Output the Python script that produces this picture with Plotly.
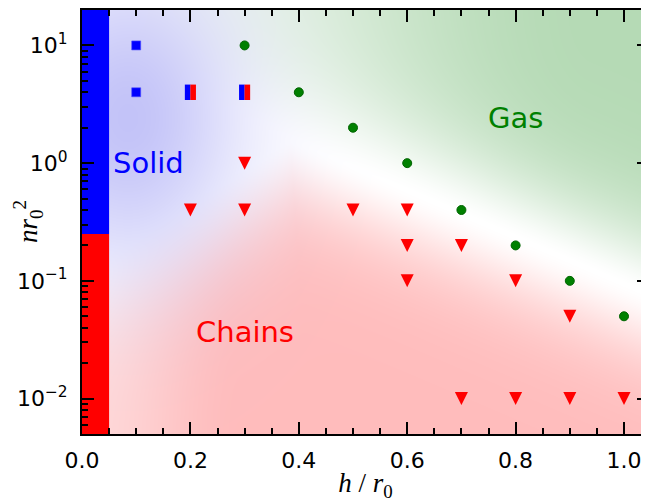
import base64
import struct
import zlib

import numpy as np
import plotly.graph_objects as go

# ---------------- data ----------------
solid_h = [0.1, 0.1]
solid_n = [10, 4]

mixed_h = [0.2, 0.3]
mixed_n = [4, 4]

gas_h = [0.3, 0.4, 0.5, 0.6, 0.7, 0.8, 0.9, 1.0]
gas_n = [10, 4, 2, 1, 0.4, 0.2, 0.1, 0.05]

chain_h = [0.3, 0.2, 0.3, 0.5, 0.6, 0.6, 0.7, 0.6, 0.8, 0.9, 0.7, 0.8, 0.9, 1.0]
chain_n = [1, 0.4, 0.4, 0.4, 0.4, 0.2, 0.2, 0.1, 0.1, 0.05, 0.01, 0.01, 0.01, 0.01]

band_h = [0.0, 0.05]          # h = 0 strip
band_split = 0.25             # solid above / chains below

x_tickvals = [0.0, 0.2, 0.4, 0.6, 0.8, 1.0]
x_ticktext = ["0.0", "0.2", "0.4", "0.6", "0.8", "1.0"]
y_tickvals = [0.01, 0.1, 1, 10]
y_ticktext = ["10<sup>\u22122</sup>", "10<sup>\u22121</sup>", "10<sup>0</sup>", "10<sup>1</sup>"]

region_names = ["Solid", "Gas", "Chains"]
region_h = [0.053, 0.80, 0.30]
region_n = [1.0, 2.4, 0.037]
region_colors = ["blue", "green", "red"]

x_range = [0.0, 1.0461]
y_min, y_max = 0.005, 20.0

# ---------------- layout geometry ----------------
# the page body adds an 8px margin, so the figure is sized to fill the rest
OFF = 8
W, H = 649 - OFF, 502 - OFF
ML, MR, MT, MB = 82 - OFF, 0, 10 - OFF, 68
PW, PH = W - ML - MR, H - MT - MB

# ---------------- soft background (phase tint) ----------------
def smoothstep(v, a, b):
    t = np.clip((v - a) / (b - a), 0, 1)
    return t * t * (3 - 2 * t)

jj, ii = np.mgrid[0:PH, 0:PW]
px = 82 + ii + 0.5          # coordinates in window pixels
py = 10 + jj + 0.5

# blue blob (solid)
a_b = np.exp(-(((px - 128) / 80.0) ** 2 + ((py - 118) / 108.0) ** 2) / 2)
# green (gas) above diagonal
line_g = 140 + 0.43 * (px - 290)
d_g = (line_g - py) / 1.089
a_g = (1 - np.exp(-(np.clip(d_g, 0, None) / 65.0) ** 1.5)) * smoothstep(px, 60, 590)
# red (chains) below
d1 = (py - line_g) / 1.089
line_r2 = 250 - 0.61 * (px - 110)
d2 = (py - line_r2) / 1.172
d_r = np.minimum(d1, d2)
a_r = (1 - np.exp(-(np.clip(d_r, 0, None) / 62.0) ** 1.6)) * (0.6 + 0.4 * smoothstep(px, 90, 240))

a_g = a_g * (1 - a_b)
a_r = a_r * (1 - a_b)

t_b = np.array([60, 60, 7])
t_g = np.array([74, 37, 74])
t_r = np.array([0, 67, 67])
img = 255 - a_b[..., None] * t_b - a_g[..., None] * t_g - a_r[..., None] * t_r
img = np.clip(np.round(img), 0, 255).astype(np.uint8)


def to_png(arr):
    h, w, _ = arr.shape
    raw = b"".join(b"\x00" + arr[r].tobytes() for r in range(h))

    def chunk(tag, data):
        c = struct.pack(">I", len(data)) + tag + data
        return c + struct.pack(">I", zlib.crc32(tag + data) & 0xFFFFFFFF)

    return (b"\x89PNG\r\n\x1a\n"
            + chunk(b"IHDR", struct.pack(">IIBBBBB", w, h, 8, 2, 0, 0, 0))
            + chunk(b"IDAT", zlib.compress(raw, 9))
            + chunk(b"IEND", b""))


bg_src = "data:image/png;base64," + base64.b64encode(to_png(img)).decode()

# ---------------- figure ----------------
fig = go.Figure()

# h = 0 strip
fig.add_trace(go.Scatter(
    x=[band_h[0], band_h[1], band_h[1], band_h[0], band_h[0]],
    y=[band_split, band_split, y_max, y_max, band_split],
    fill="toself", fillcolor="rgb(0,0,255)", mode="lines",
    line=dict(width=0, color="rgb(0,0,255)"), hoverinfo="skip"))
fig.add_trace(go.Scatter(
    x=[band_h[0], band_h[1], band_h[1], band_h[0], band_h[0]],
    y=[y_min, y_min, band_split, band_split, y_min],
    fill="toself", fillcolor="rgb(255,0,0)", mode="lines",
    line=dict(width=0, color="rgb(255,0,0)"), hoverinfo="skip"))

# gas
fig.add_trace(go.Scatter(
    x=gas_h, y=gas_n, mode="markers",
    marker=dict(symbol="circle", size=9, color="rgb(0,128,0)",
                line=dict(width=1, color="rgb(0,100,0)"))))

# chains
fig.add_trace(go.Scatter(
    x=chain_h, y=chain_n, mode="markers",
    marker=dict(symbol="arrow-down", size=13, standoff=6.5, color="rgb(255,0,0)",
                line=dict(width=0))))

# solid
fig.add_trace(go.Scatter(
    x=solid_h, y=solid_n, mode="markers",
    marker=dict(symbol="square", size=9, color="rgb(0,0,255)",
                line=dict(width=1, color="rgba(80,80,255,0.6)"))))

# mixed (half solid / half chains)
half = 2.75 * (x_range[1] - x_range[0]) / PW
fig.add_trace(go.Scatter(
    x=[h - half for h in mixed_h], y=mixed_n, mode="markers",
    marker=dict(symbol="line-ns", size=11, color="rgb(0,0,255)",
                line=dict(width=5.6, color="rgb(0,0,255)"))))
fig.add_trace(go.Scatter(
    x=[h + half for h in mixed_h], y=mixed_n, mode="markers",
    marker=dict(symbol="line-ns", size=11, color="rgb(255,0,0)",
                line=dict(width=5.6, color="rgb(255,0,0)"))))

# dummy trace for right-hand tick axis
fig.add_trace(go.Scatter(x=[None], y=[None], yaxis="y2", hoverinfo="skip"))

for name, h, n, c in zip(region_names, region_h, region_n, region_colors):
    fig.add_annotation(
        x=h, y=np.log10(n), text=name, showarrow=False,
        xanchor="left" if name == "Solid" else "center", yanchor="middle",
        font=dict(family="DejaVu Sans", size=29, color=c))

# y-axis title
fig.add_annotation(
    x=(28 - 82) / PW, y=0.5, xref="paper", yref="paper",
    text="<i>nr</i><sub>0</sub><sup>2</sup>", showarrow=False, textangle=-90,
    xanchor="center", yanchor="middle",
    font=dict(family="Liberation Serif", size=27, color="black"))

fig.add_layout_image(
    source=bg_src, xref="paper", yref="paper", x=0, y=1, sizex=1, sizey=1,
    xanchor="left", yanchor="top", sizing="stretch", layer="below")

y_minor = [m * 10.0 ** e for e in range(-3, 2) for m in range(2, 10)
           if y_min <= m * 10.0 ** e <= y_max]

yaxis_common = dict(
    type="log", range=[np.log10(y_min), np.log10(y_max)],
    tickmode="array", tickvals=y_tickvals,
    ticks="inside", ticklen=12, tickwidth=2, tickcolor="black",
    minor=dict(tickmode="array", tickvals=y_minor, ticks="inside",
               ticklen=6, tickwidth=1.5, tickcolor="black", showgrid=False),
    showgrid=False, zeroline=False, automargin=False,
)

fig.update_layout(
    width=W, height=H,
    margin=dict(l=ML, r=MR, t=MT, b=MB, pad=0, autoexpand=False),
    paper_bgcolor="white", plot_bgcolor="white",
    showlegend=False,
    xaxis=dict(
        range=x_range, tickmode="array", tickvals=x_tickvals, ticktext=x_ticktext,
        ticks="inside", ticklen=12, tickwidth=2, tickcolor="black",
        minor=dict(dtick=0.05, tick0=0, ticks="inside", ticklen=6,
                   tickwidth=1.5, tickcolor="black", showgrid=False),
        showline=True, linewidth=2, linecolor="black", mirror="ticks",
        showgrid=False, zeroline=False, automargin=False,
        tickfont=dict(family="DejaVu Sans", size=22, color="black"),
        ticklabelstandoff=6,
        title=dict(text="<i>h</i> / <i>r</i><sub>0</sub>",
                   font=dict(family="Liberation Serif", size=27, color="black"),
                   standoff=4),
    ),
    yaxis=dict(
        **yaxis_common,
        ticktext=y_ticktext,
        showline=True, linewidth=2, linecolor="black",
        tickfont=dict(family="DejaVu Sans", size=22, color="black"),
        ticklabelstandoff=8,
    ),
    yaxis2=dict(
        **yaxis_common,
        overlaying="y", side="right", anchor="x",
        showticklabels=False, showline=False,
    ),
)

fig.write_html("out.html")
